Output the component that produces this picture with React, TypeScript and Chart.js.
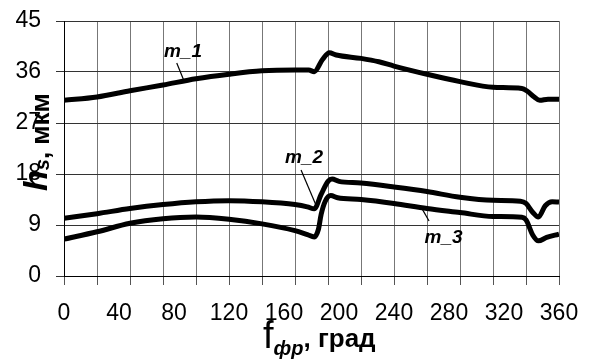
import React, { useEffect, useRef } from 'react';
import { Chart, registerables } from 'chart.js';

Chart.register(...registerables);

// ---- data ----
const m1Angles = [0, 24, 48, 72, 96, 120, 144, 168, 178, 182, 188, 193, 198, 216, 229, 240, 264, 288, 312, 333, 337, 342, 346, 352, 360];
const m1Values = [31.0, 31.6, 32.7, 33.7, 34.8, 35.6, 36.2, 36.35, 36.35, 36.05, 38.2, 39.4, 39.0, 38.4, 37.8, 37.05, 35.6, 34.3, 33.3, 33.1, 32.6, 31.6, 31.0, 31.2, 31.2];

const m2Angles = [0, 24, 48, 72, 96, 120, 144, 168, 177, 182, 187, 192, 195, 200, 216, 240, 264, 288, 312, 332, 336, 341, 345, 350, 355, 360];
const m2Values = [10.2, 11.0, 11.9, 12.6, 13.1, 13.3, 13.1, 12.6, 12.2, 11.85, 14.4, 16.7, 17.1, 16.7, 16.4, 15.7, 14.9, 13.9, 13.35, 13.2, 12.8, 11.2, 10.4, 12.4, 13.1, 13.05];

const m3Angles = [0, 24, 48, 72, 96, 120, 144, 168, 177, 182, 185, 187, 190, 194, 199, 216, 240, 264, 288, 312, 333, 336, 341, 345, 351, 360];
const m3Values = [6.5, 7.8, 9.3, 10.1, 10.4, 10.0, 9.2, 8.0, 7.3, 6.9, 8.2, 10.85, 13.2, 14.2, 13.8, 13.5, 12.8, 11.9, 11.2, 10.5, 10.35, 9.9, 7.2, 6.2, 6.8, 7.4];

const xMin = 0;
const xMax = 360;
const xLabelStep = 40;
const xGridStep = 24;
const yMin = 0;
const yMax = 45;
const yStep = 9;

const seriesNames = ['m_1', 'm_2', 'm_3'];
// label anchor (angle, value) and leader line (from -> to) in data units
const labelAngles = [86.5, 174.5, 276];
const labelValues = [39.5, 20.8, 6.7];
const leaderFrom = [[82, 37.6], [172.4, 18.7], [259.6, 12.2]];
const leaderTo = [[87, 34.6], [183.3, 12.5], [265.5, 9.7]];

const FONT = '"Liberation Sans", Arial, sans-serif';

type Run = { text: string; font: string; dy: number };

function drawRuns(ctx: CanvasRenderingContext2D, x: number, y: number, runs: Run[]) {
  let cx = x;
  ctx.textAlign = 'left';
  ctx.textBaseline = 'alphabetic';
  for (const r of runs) {
    ctx.font = r.font;
    ctx.fillText(r.text, cx, y + r.dy);
    cx += ctx.measureText(r.text).width;
  }
}

const overlayPlugin = {
  id: 'overlay',
  afterDraw(chart: any) {
    const { ctx } = chart;
    const xs = chart.scales.x;
    const ys = chart.scales.y;
    ctx.save();
    ctx.fillStyle = '#000';
    ctx.strokeStyle = '#000';
    ctx.lineWidth = 1.2;
    for (let i = 0; i < seriesNames.length; i++) {
      ctx.beginPath();
      ctx.moveTo(xs.getPixelForValue(leaderFrom[i][0]), ys.getPixelForValue(leaderFrom[i][1]));
      ctx.lineTo(xs.getPixelForValue(leaderTo[i][0]), ys.getPixelForValue(leaderTo[i][1]));
      ctx.stroke();
      ctx.font = `bold italic 19px ${FONT}`;
      ctx.textAlign = 'center';
      ctx.textBaseline = 'middle';
      ctx.fillText(seriesNames[i], xs.getPixelForValue(labelAngles[i]), ys.getPixelForValue(labelValues[i]));
    }

    // x axis title: f_фр, град
    drawRuns(ctx, 263, 348, [
      { text: 'f', font: `38px ${FONT}`, dy: 0 },
      { text: 'фр', font: `bold italic 20px ${FONT}`, dy: 7 },
      { text: ', град', font: `bold 26px ${FONT}`, dy: -1 },
    ]);

    // y axis title: h_s, мкм (rotated)
    ctx.translate(47, 191);
    ctx.rotate(-Math.PI / 2);
    drawRuns(ctx, 0, 0, [
      { text: 'h', font: `bold italic 34px ${FONT}`, dy: 0 },
      { text: 's', font: `bold italic 20px ${FONT}`, dy: 2 },
      { text: ', мкм', font: `bold 26px ${FONT}`, dy: 2 },
    ]);
    ctx.restore();
  },
};

function xTickValues(): number[] {
  const set = new Set<number>();
  for (let v = xMin; v <= xMax; v += xGridStep) set.add(v);
  for (let v = xMin; v <= xMax; v += xLabelStep) set.add(v);
  return Array.from(set).sort((a, b) => a - b);
}

export default function App() {
  const canvasRef = useRef<HTMLCanvasElement | null>(null);

  useEffect(() => {
    const canvas = canvasRef.current;
    if (!canvas) return;
    const mk = (angles: number[], values: number[]) => angles.map((a, i) => ({ x: a, y: values[i] }));
    const lineStyle = {
      borderColor: '#000',
      borderWidth: 5,
      pointRadius: 0,
      fill: false,
      cubicInterpolationMode: 'monotone' as const,
      borderJoinStyle: 'round' as const,
    };
    const chart = new Chart(canvas, {
      type: 'line',
      data: {
        datasets: [
          { label: seriesNames[0], data: mk(m1Angles, m1Values), ...lineStyle },
          { label: seriesNames[1], data: mk(m2Angles, m2Values), ...lineStyle },
          { label: seriesNames[2], data: mk(m3Angles, m3Values), ...lineStyle },
        ],
      },
      options: {
        animation: false,
        responsive: false,
        devicePixelRatio: 1,
        layout: { padding: { left: 0, top: 21, right: 30, bottom: 0 } },
        plugins: { legend: { display: false }, tooltip: { enabled: false } },
        scales: {
          x: {
            type: 'linear',
            min: xMin,
            max: xMax,
            afterBuildTicks: (scale: any) => {
              scale.ticks = xTickValues().map((v) => ({ value: v }));
            },
            afterFit: (scale: any) => {
              scale.height = 85;
              scale.paddingLeft = 0;
              scale.paddingRight = 0;
            },
            grid: {
              color: (c: any) => (c.tick && c.tick.value % xGridStep === 0 ? '#777' : 'rgba(0,0,0,0)'),
              tickColor: (c: any) => (c.tick && c.tick.value % xGridStep === 0 ? '#555' : 'rgba(0,0,0,0)'),
              lineWidth: 1,
              tickLength: 9,
            },
            border: { color: '#000', width: 1 },
            ticks: {
              autoSkip: false,
              maxRotation: 0,
              minRotation: 0,
              padding: 15,
              color: '#000',
              font: { family: FONT, size: 23 },
              callback: (v: any) => (Number(v) % xLabelStep === 0 ? String(v) : ''),
            },
          },
          y: {
            type: 'linear',
            min: yMin,
            max: yMax,
            afterFit: (scale: any) => {
              scale.width = 64;
              scale.paddingTop = 0;
              scale.paddingBottom = 0;
            },
            grid: { color: '#333', tickColor: '#333', lineWidth: 1, tickLength: 8 },
            border: { color: '#000', width: 1 },
            ticks: {
              stepSize: yStep,
              padding: 15,
              color: '#000',
              font: { family: FONT, size: 23 },
            },
          },
        },
      },
      plugins: [overlayPlugin],
    });
    return () => chart.destroy();
  }, []);

  return (
    <div style={{ position: 'fixed', left: 0, top: 0, width: 589, height: 361, background: '#fff' }}>
      <canvas ref={canvasRef} width={589} height={361} />
    </div>
  );
}
